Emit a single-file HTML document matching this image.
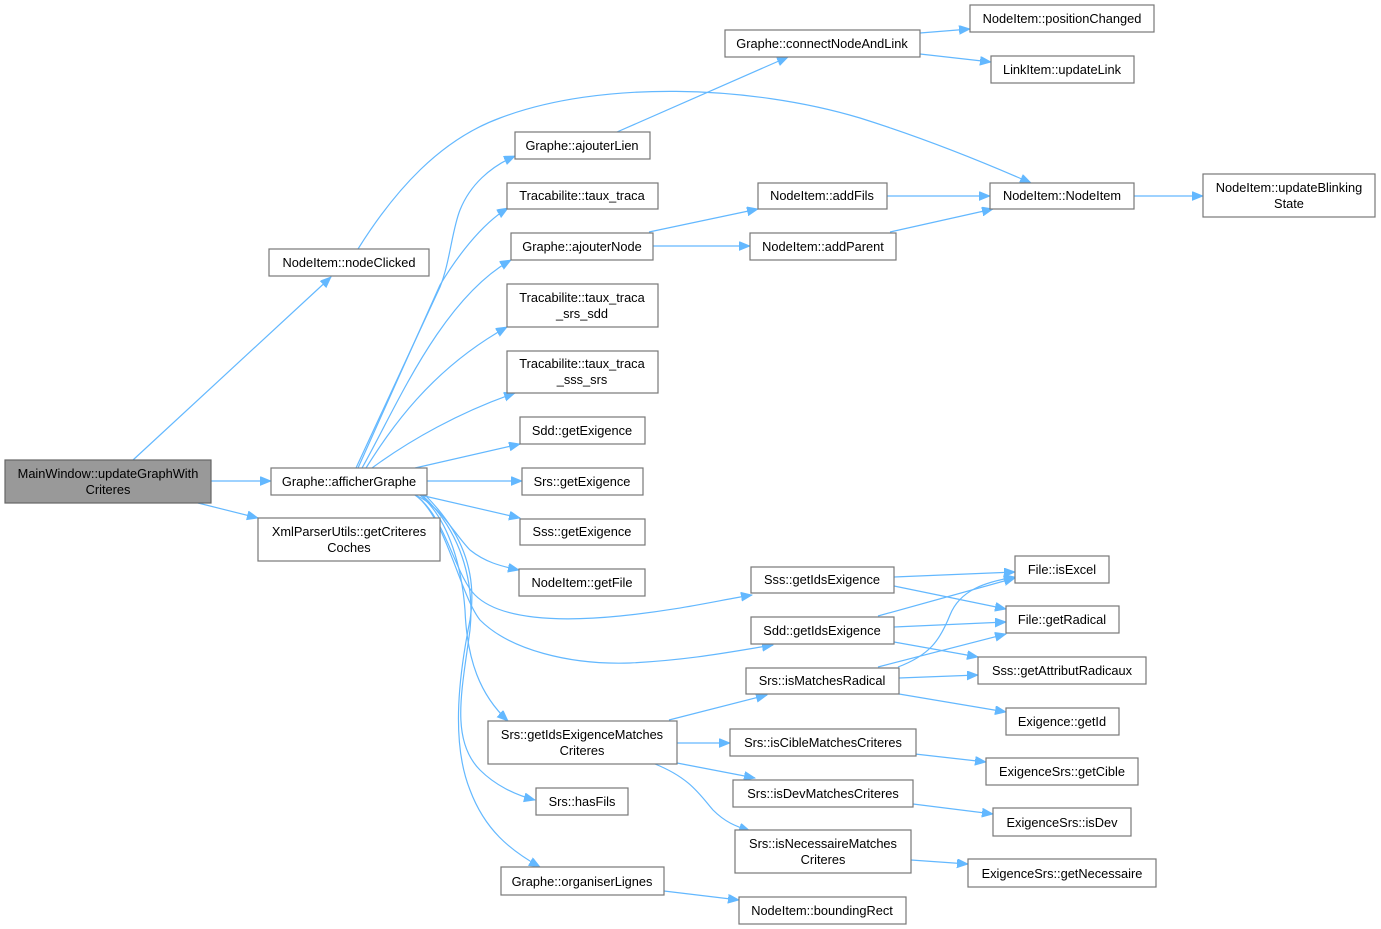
<!DOCTYPE html>
<html><head><meta charset="utf-8"><style>
html,body{margin:0;padding:0;background:#fff;}
svg{display:block;}
text{font-family:"Liberation Sans",Arial,sans-serif;font-size:12.8px;fill:#000;text-anchor:middle;}
.b{fill:#fff;stroke:#777;stroke-width:1.2;}
.m{fill:#999;stroke:#666;stroke-width:1.2;}
.e{fill:none;stroke:#63b8ff;stroke-width:1.2;marker-end:url(#a);}
</style></head><body>
<svg width="1381" height="929" viewBox="0 0 1381 929" xmlns="http://www.w3.org/2000/svg">
<defs><marker id="a" markerUnits="userSpaceOnUse" markerWidth="12" markerHeight="10" refX="11" refY="4.5" orient="auto"><path d="M0,0 L11,4.5 L0,9 z" fill="#63b8ff" stroke="#63b8ff" stroke-width="0.8"/></marker></defs>

<!-- edges -->
<path class="e" d="M133,460 L331,277"/>
<path class="e" d="M211,481 L271,481"/>
<path class="e" d="M198,503 L258,518"/>
<path class="e" d="M358,249 C395,190 440,140 500,118 C600,80 750,85 860,118 C930,140 990,165 1031,183"/>
<path class="e" d="M356,468 L440,287 C450,262 452,230 460,210 C470,185 490,167 515,156"/>
<path class="e" d="M358,468 L440,285 C455,260 480,225 508,208"/>
<path class="e" d="M362,468 C395,410 440,300 511,260"/>
<path class="e" d="M366,468 C390,430 430,370 507,327"/>
<path class="e" d="M372,468 C410,440 460,412 515,393"/>
<path class="e" d="M415,468 L520,444"/>
<path class="e" d="M427,481 L522,481"/>
<path class="e" d="M420,495 L520,518"/>
<path class="e" d="M415,495 C440,505 455,535 470,550 C485,562 500,566 519,570"/>
<path class="e" d="M415,495 C445,515 455,575 475,595 C500,620 560,622 620,616 C680,610 720,600 752,595"/>
<path class="e" d="M415,495 C445,515 460,595 480,620 C510,650 570,665 630,663 C690,660 730,652 773,645"/>
<path class="e" d="M420,495 C450,520 462,570 465,610 C467,660 480,695 508,721"/>
<path class="e" d="M422,495 C460,530 475,580 470,630 C462,690 450,740 480,770 C495,785 515,795 535,800"/>
<path class="e" d="M425,495 C460,530 478,570 470,620 C460,670 450,740 470,790 C485,830 510,850 540,867"/>
<path class="e" d="M617,132 L788,57"/>
<path class="e" d="M649,232 L758,209"/>
<path class="e" d="M653,246 L750,246"/>
<path class="e" d="M920,33 L970,29"/>
<path class="e" d="M920,54 L991,62"/>
<path class="e" d="M887,196 L990,196"/>
<path class="e" d="M890,232 L993,209"/>
<path class="e" d="M1134,196 L1203,196"/>
<path class="e" d="M894,577 L1015,572"/>
<path class="e" d="M894,586 L1006,609"/>
<path class="e" d="M878,616 L1015,578"/>
<path class="e" d="M894,627 L1006,622"/>
<path class="e" d="M894,642 L978,657"/>
<path class="e" d="M878,667 L1006,634"/>
<path class="e" d="M898,667 C930,655 940,640 950,615 C960,590 985,582 1015,577"/>
<path class="e" d="M899,678 L978,675"/>
<path class="e" d="M899,694 L1006,712"/>
<path class="e" d="M669,720 L767,695"/>
<path class="e" d="M677,743 L730,743"/>
<path class="e" d="M677,763 L755,778"/>
<path class="e" d="M655,764 C690,778 700,795 713,810 C725,822 735,826 750,831"/>
<path class="e" d="M664,891 L739,900"/>
<path class="e" d="M915,754 L986,762"/>
<path class="e" d="M913,804 L993,814"/>
<path class="e" d="M911,860 L968,864"/>

<!-- nodes -->
<rect class="m" x="5" y="460" width="206" height="43"/>
<text x="108" y="478">MainWindow::updateGraphWith</text><text x="108" y="494">Criteres</text>

<rect class="b" x="269" y="249" width="160" height="27"/><text x="349" y="267">NodeItem::nodeClicked</text>
<rect class="b" x="271" y="468" width="156" height="27"/><text x="349" y="486">Graphe::afficherGraphe</text>
<rect class="b" x="258" y="518" width="182" height="43"/><text x="349" y="536">XmlParserUtils::getCriteres</text><text x="349" y="552">Coches</text>

<rect class="b" x="725" y="30" width="195" height="27"/><text x="822" y="48">Graphe::connectNodeAndLink</text>
<rect class="b" x="515" y="132" width="135" height="27"/><text x="582" y="150">Graphe::ajouterLien</text>
<rect class="b" x="507" y="183" width="151" height="26"/><text x="582" y="200">Tracabilite::taux_traca</text>
<rect class="b" x="511" y="233" width="142" height="27"/><text x="582" y="251">Graphe::ajouterNode</text>
<rect class="b" x="758" y="183" width="129" height="26"/><text x="822" y="200">NodeItem::addFils</text>
<rect class="b" x="750" y="233" width="146" height="27"/><text x="823" y="251">NodeItem::addParent</text>
<rect class="b" x="507" y="284" width="151" height="43"/><text x="582" y="302">Tracabilite::taux_traca</text><text x="582" y="318">_srs_sdd</text>
<rect class="b" x="507" y="351" width="151" height="42"/><text x="582" y="368">Tracabilite::taux_traca</text><text x="582" y="384">_sss_srs</text>
<rect class="b" x="520" y="417" width="125" height="27"/><text x="582" y="435">Sdd::getExigence</text>
<rect class="b" x="522" y="468" width="121" height="27"/><text x="582" y="486">Srs::getExigence</text>
<rect class="b" x="520" y="519" width="125" height="26"/><text x="582" y="536">Sss::getExigence</text>
<rect class="b" x="519" y="569" width="126" height="27"/><text x="582" y="587">NodeItem::getFile</text>

<rect class="b" x="970" y="5" width="184" height="27"/><text x="1062" y="23">NodeItem::positionChanged</text>
<rect class="b" x="991" y="56" width="143" height="27"/><text x="1062" y="74">LinkItem::updateLink</text>
<rect class="b" x="990" y="183" width="144" height="26"/><text x="1062" y="200">NodeItem::NodeItem</text>
<rect class="b" x="1203" y="174" width="172" height="43"/><text x="1289" y="192">NodeItem::updateBlinking</text><text x="1289" y="208">State</text>

<rect class="b" x="751" y="567" width="143" height="26"/><text x="822" y="584">Sss::getIdsExigence</text>
<rect class="b" x="751" y="617" width="143" height="27"/><text x="822" y="635">Sdd::getIdsExigence</text>
<rect class="b" x="746" y="668" width="153" height="26"/><text x="822" y="685">Srs::isMatchesRadical</text>
<rect class="b" x="1015" y="556" width="94" height="27"/><text x="1062" y="574">File::isExcel</text>
<rect class="b" x="1006" y="606" width="113" height="27"/><text x="1062" y="624">File::getRadical</text>
<rect class="b" x="978" y="657" width="168" height="27"/><text x="1062" y="675">Sss::getAttributRadicaux</text>
<rect class="b" x="1006" y="708" width="113" height="27"/><text x="1062" y="726">Exigence::getId</text>

<rect class="b" x="488" y="721" width="189" height="43"/><text x="582" y="739">Srs::getIdsExigenceMatches</text><text x="582" y="755">Criteres</text>
<rect class="b" x="730" y="729" width="186" height="27"/><text x="823" y="747">Srs::isCibleMatchesCriteres</text>
<rect class="b" x="733" y="780" width="180" height="27"/><text x="823" y="798">Srs::isDevMatchesCriteres</text>
<rect class="b" x="735" y="830" width="176" height="43"/><text x="823" y="848">Srs::isNecessaireMatches</text><text x="823" y="864">Criteres</text>
<rect class="b" x="536" y="788" width="92" height="27"/><text x="582" y="806">Srs::hasFils</text>
<rect class="b" x="501" y="867" width="163" height="28"/><text x="582" y="886">Graphe::organiserLignes</text>
<rect class="b" x="739" y="897" width="167" height="27"/><text x="822" y="915">NodeItem::boundingRect</text>

<rect class="b" x="986" y="758" width="152" height="27"/><text x="1062" y="776">ExigenceSrs::getCible</text>
<rect class="b" x="993" y="808" width="138" height="28"/><text x="1062" y="827">ExigenceSrs::isDev</text>
<rect class="b" x="968" y="859" width="188" height="28"/><text x="1062" y="878">ExigenceSrs::getNecessaire</text>
</svg>
</body></html>
